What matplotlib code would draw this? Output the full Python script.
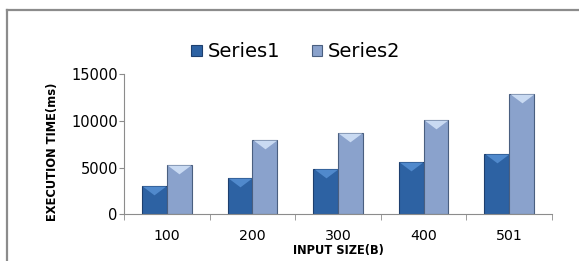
import numpy as np
import matplotlib.pyplot as plt
from matplotlib.lines import Line2D

sizes = ['100', '200', '300', '400', '501']
series1 = [3030, 3900, 4860, 5580, 6430]
series2 = [5280, 7940, 8690, 10030, 12880]

W, H = 579, 261
fig = plt.figure(figsize=(W / 100, H / 100), dpi=100)

# outer chart border: only the left and top edges show in the crop
fig.add_artist(Line2D([7.5 / W, 7.5 / W], [0, 1 - 9.5 / H], color='#8c8c8c', lw=1.6))
fig.add_artist(Line2D([7.5 / W, 1.01], [1 - 9.5 / H, 1 - 9.5 / H], color='#8c8c8c', lw=1.6))

ax = fig.add_axes([124 / W, 1 - 214.3 / H, 428 / W, 140.3 / H])
x = np.arange(len(sizes))
w = 0.29
ax.bar(x - w / 2, series1, w, color='#2d62a3', edgecolor='#1d3f6e', linewidth=0.8, label='Series1')
ax.bar(x + w / 2, series2, w, color='#8aa2cc', edgecolor='#4a5f80', linewidth=0.8, label='Series2')

# lighter bevel triangle on top of every bar
tri = [(-1, 0), (1, 0), (0, -0.75), (-1, 0)]
ax.plot(x - w / 2, series1, ls='none', marker=tri, ms=17, mfc='#5089cc', mec='none')
ax.plot(x + w / 2, series2, ls='none', marker=tri, ms=17, mfc='#c9daf2', mec='none')

ax.set_xlim(-0.5, len(sizes) - 0.5)
ax.set_ylim(0, 15000)
ax.set_yticks([0, 5000, 10000, 15000])
ax.set_xticks(x)
ax.set_xticklabels(sizes)
ax.set_xticks(np.arange(-0.5, len(sizes)), minor=True)
ax.tick_params(axis='x', which='major', length=0, pad=10.5, labelsize=10.2)
ax.tick_params(axis='x', which='minor', length=4, color='#8c8c8c')
ax.tick_params(axis='y', length=3.5, color='#8c8c8c', labelsize=10.5, pad=1)
for s in ['top', 'right']:
    ax.spines[s].set_visible(False)
for s in ['left', 'bottom']:
    ax.spines[s].set_color('#8c8c8c')

ax.set_xlabel('INPUT SIZE(B)', fontsize=8.3, fontweight='bold', va='center')
ax.xaxis.set_label_coords(0.5, -0.258)
ax.set_ylabel('EXECUTION TIME(ms)', fontsize=8.3, fontweight='bold', va='center')
ax.yaxis.set_label_coords(-0.168, 0.444)

ax.legend(loc='center', bbox_to_anchor=(0.402, 1.157), ncol=2, frameon=False,
          fontsize=14, handlelength=0.55, handleheight=0.55, handletextpad=0.3,
          columnspacing=1.6, borderpad=0)

plt.savefig('out.png', dpi=100)
